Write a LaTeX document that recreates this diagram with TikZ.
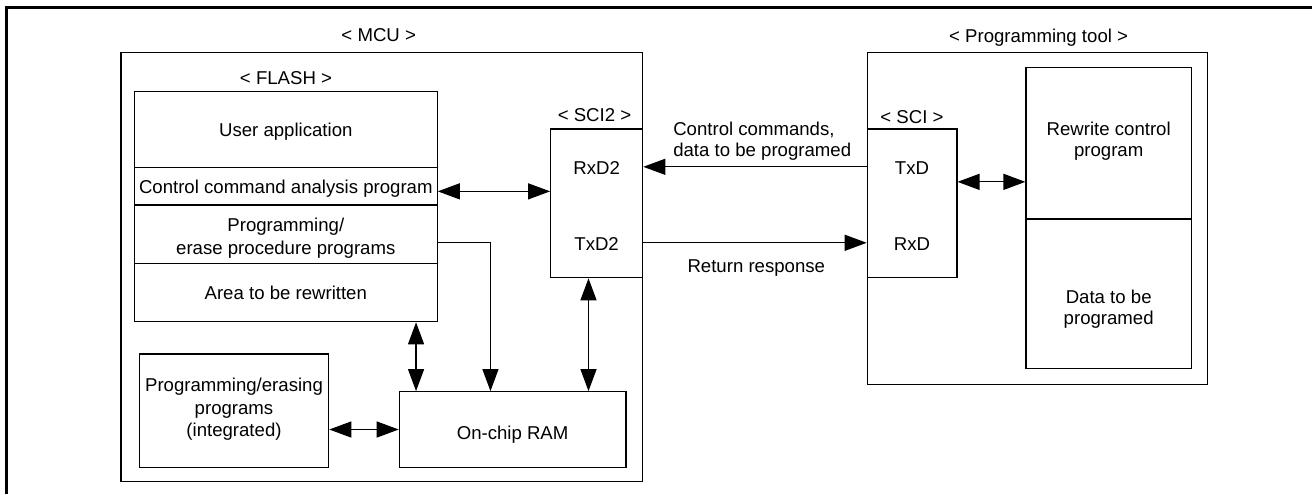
\documentclass[tikz,border=0pt]{standalone}
\usepackage{fontspec}
\setmainfont{Liberation Sans}
\usetikzlibrary{arrows.meta,fit}
\begin{document}
\begin{tikzpicture}[x=0.5pt,y=-0.5pt,
  font=\fontsize{9.3}{11.2}\selectfont, line width=0.6pt,
  box/.style={draw, inner sep=0pt},
  lab/.style={inner sep=0pt, anchor=base},
  arr/.style={-{Triangle[length=11pt,width=8pt]}},
  darr/.style={{Triangle[length=11pt,width=8pt]}-{Triangle[length=11pt,width=8pt]}}]
\useasboundingbox (0,0) rectangle (1312,494);
% outer frame (top and left)
\draw[line width=1.3pt] (6.3,494) -- (6.3,7.3) -- (1312,7.3);

% MCU
\node[lab] (mculab) at (378.7,41) {< MCU >};
\node[box, fit={(121,52.7)(642.7,481.7)}] (mcu) {};
\node[lab] (flashlab) at (286,84) {< FLASH >};
\node[box, fit={(134.5,91.7)(437.2,167.3)}] (ua) {};
\node[box, fit={(134.5,167.3)(437.2,205)}] (cca) {};
\node[box, fit={(134.5,205)(437.2,263.5)}] (pep) {};
\node[box, fit={(134.5,263.5)(437.2,321.7)}] (arw) {};
\node[lab] (uatext) at (285.8,136) {User application};
\node[lab] (ccatext) at (285.8,193.3) {Control command analysis program};
\node[lab] (peptexta) at (285.8,231.7) {Programming/};
\node[lab] (peptextb) at (285.8,254) {erase procedure programs};
\node[lab] (arwtext) at (285.8,299.3) {Area to be rewritten};

\node[lab] (sci2lab) at (594.5,121.7) {< SCI2 >};
\node[box, fit={(550.7,129)(642.7,277.7)}] (sci2) {};
\node[lab] (rxdtwo) at (596.6,174) {RxD2};
\node[lab] (txdtwo) at (596.6,250) {TxD2};

\node[box, fit={(399.3,391.7)(626,467.3)}] (ram) {};
\node[lab] (ramtext) at (512.6,439.3) {On-chip RAM};
\node[box, fit={(139.3,354)(328.7,467.3)}] (pe) {};
\node[lab] (petexta) at (234,391.7) {Programming/erasing};
\node[lab] (petextb) at (234,414.2) {programs};
\node[lab] (petextc) at (234,436.7) {(integrated)};

% Programming tool
\node[lab] (toollab) at (1038.6,42.5) {< Programming tool >};
\node[box, fit={(867.3,52.7)(1207.3,384.3)}] (tool) {};
\node[lab] (scilab) at (912,123.3) {< SCI >};
\node[box, fit={(867.3,129)(956.9,277.7)}] (sci) {};
\node[lab] (txd) at (912,174) {TxD};
\node[lab] (rxd) at (912,250) {RxD};
\node[box, fit={(1026,67.3)(1191.5,219)}] (rcp) {};
\node[box, fit={(1026,219)(1191.5,368.3)}] (dtp) {};
\node[lab] (rcptexta) at (1108.7,135) {Rewrite control};
\node[lab] (rcptextb) at (1108.7,156.7) {program};
\node[lab] (dtptexta) at (1108.7,303.3) {Data to be};
\node[lab] (dtptextb) at (1108.7,324.7) {programed};

% connector labels
\node[lab, anchor=base west] (cmdlaba) at (672.7,135) {Control commands,};
\node[lab, anchor=base west] (cmdlabb) at (672.7,156.7) {data to be programed};
\node[lab] (retlab) at (756.3,272.7) {Return response};

% connectors
\draw[darr] ([yshift=-2.6pt]cca.east) coordinate (c1) -- (c1 -| sci2.west);
\draw[arr] ([yshift=3.6pt]txd.base -| sci.west) coordinate (t1) -- (t1 -| sci2.east);
\draw[arr] ([yshift=3.6pt]txdtwo.base -| sci2.east) coordinate (t2) -- (t2 -| sci.west);
\draw[darr] ([yshift=10.75pt]sci.east) coordinate (s1) -- (s1 -| rcp.west);
\draw[arr] ([yshift=-4pt]pep.east) -| ([xshift=-11.1pt]ram.north);
\draw[darr] ([xshift=-48.3pt]ram.north) coordinate (r1) -- (r1 |- arw.south);
\draw[darr] ([xshift=-4.1pt]sci2.south) coordinate (s2) -- (s2 |- ram.north);
\draw[darr] (pe.east |- ram.west) -- (ram.west);
\end{tikzpicture}
\end{document}
